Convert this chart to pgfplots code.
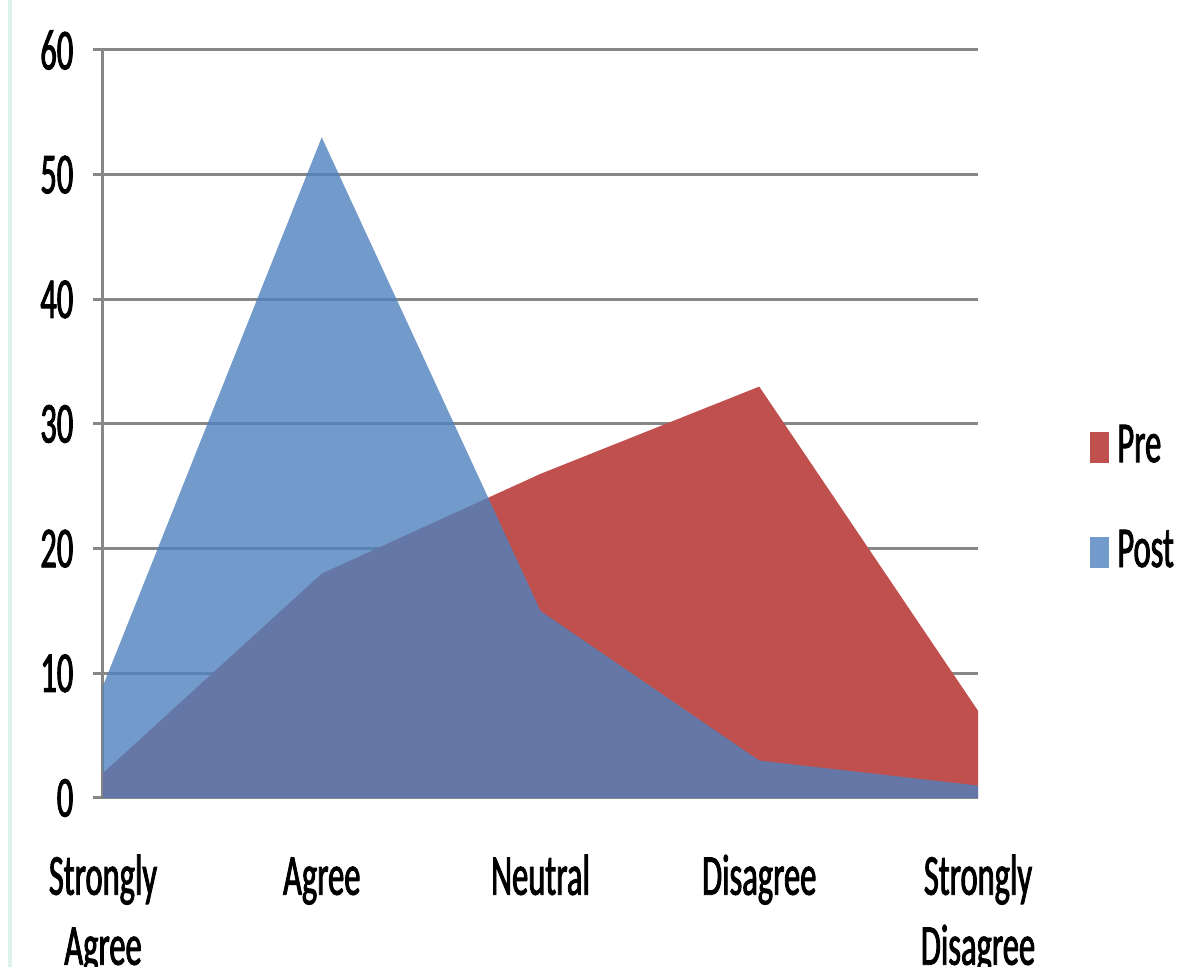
\documentclass[border=0pt]{standalone}
\usepackage{fontspec}
\setmainfont{Carlito}[FakeStretch=0.56, FakeBold=1.5]
\usepackage{pgfplots}
\pgfplotsset{compat=1.18}
\definecolor{preRed}{HTML}{C0504D}
\definecolor{postBlue}{HTML}{4F81BD}
\definecolor{gridGray}{HTML}{878787}
\definecolor{edgeGreen}{HTML}{DDF2E8}

\begin{document}
\fontsize{29}{35}\selectfont
\begin{tikzpicture}
\begin{axis}[
    name=ax, at={(0,0)}, anchor=south west,
    width=437.5pt, height=374pt, scale only axis,
    xmin=0, xmax=4, ymin=0, ymax=60,
    axis x line=bottom, axis y line=left,
    axis line style={-, gridGray, line width=1.5pt},
    xtick={0,1,2,3,4},
    xticklabels={\strut Strongly\\Agree, \strut Agree, \strut Neutral, \strut Disagree, \strut Strongly\\Disagree},
    x tick label style={align=center, yshift=-9pt},
    xtick style={draw=none},
    ytick={0,10,...,60},
    ymajorgrids,
    major grid style={gridGray, line width=1.5pt},
    tick align=outside, major tick length=5pt,
    ytick style={gridGray, line width=1.5pt},
    /pgf/number format/assume math mode=true,
    legend style={at={(1.128,0.398)}, anchor=west, draw=none, fill=none,
        row sep=29.5pt, inner sep=0pt, nodes={inner xsep=4pt, inner ysep=0pt}},
    legend cell align=left,
    legend image code/.code={\fill[#1] (0pt,-7.75pt) rectangle (9.5pt,7.75pt);},
]
\addplot[fill=preRed, draw=none] coordinates {
    (0,2) (1,18) (2,26) (3,33) (4,7)
} \closedcycle;
\addlegendentry{Pre}
\addplot[fill=postBlue, fill opacity=0.8, draw=none] coordinates {
    (0,9) (1,53) (2,15) (3,3) (4,1)
} \closedcycle;
\addlegendentry{Post}
\pgfplotsinvokeforeach{0,1,2,3,4}{
    \draw[gridGray, line width=1.5pt] (axis cs:#1,0) -- ++(0,-10pt);
}
\end{axis}
\draw[edgeGreen, line width=2pt] (-46.5pt,-84.5pt) -- (-46.5pt,399pt);
\pgfresetboundingbox
\path[use as bounding box] (-51.5pt,-84.5pt) rectangle (537pt,399pt);
\end{tikzpicture}
\end{document}
